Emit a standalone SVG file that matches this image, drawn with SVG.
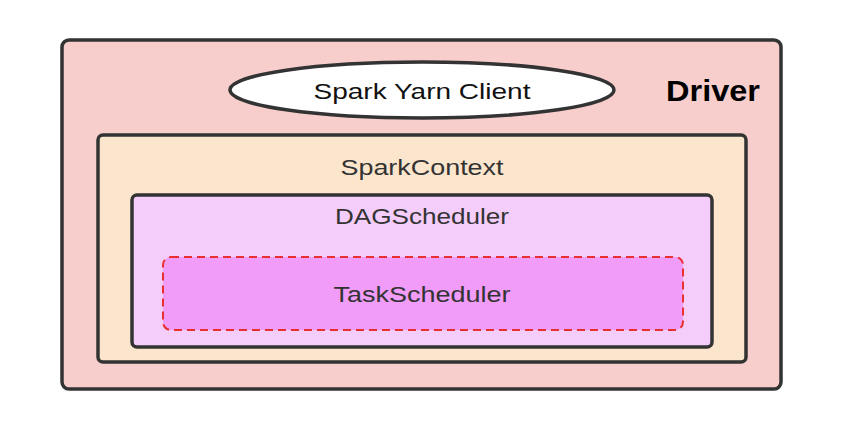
<svg xmlns="http://www.w3.org/2000/svg" width="846" height="438" viewBox="0 0 846 438">
<style>
.box{stroke:#333333;stroke-width:3.5}
.t{font-family:"Liberation Sans",Arial,sans-serif;font-size:22px;fill:#333333;text-anchor:middle}
</style>
<rect width="846" height="438" fill="#ffffff"/>
<g id="driver">
<rect class="box" x="62" y="40" width="719" height="349" rx="7" fill="#f8cecc"/>
<text x="713" y="101" font-family="Liberation Sans,Arial,sans-serif" font-size="29" font-weight="bold" fill="#000000" text-anchor="middle" textLength="94" lengthAdjust="spacingAndGlyphs">Driver</text>
</g>
<g id="yarnclient">
<ellipse class="box" cx="422" cy="90" rx="192" ry="28" fill="#ffffff"/>
<text class="t" x="422" y="99" style="fill:#111111" textLength="217" lengthAdjust="spacingAndGlyphs">Spark Yarn Client</text>
</g>
<g id="sparkcontext">
<rect class="box" x="98" y="135" width="648" height="227" rx="5" fill="#fce5cd"/>
<text class="t" x="422" y="175" textLength="163" lengthAdjust="spacingAndGlyphs">SparkContext</text>
</g>
<g id="dagscheduler">
<rect class="box" x="132" y="195" width="580" height="152" rx="5" fill="#f5cdfa"/>
<text class="t" x="422" y="224" textLength="174" lengthAdjust="spacingAndGlyphs">DAGScheduler</text>
</g>
<g id="taskscheduler">
<rect x="163" y="257" width="520" height="73" rx="8" fill="#f09cf8" stroke="#e83030" stroke-width="2" stroke-dasharray="8,5"/>
<text class="t" x="422" y="302" textLength="177" lengthAdjust="spacingAndGlyphs">TaskScheduler</text>
</g>
<g id="connectors"/>
</svg>
